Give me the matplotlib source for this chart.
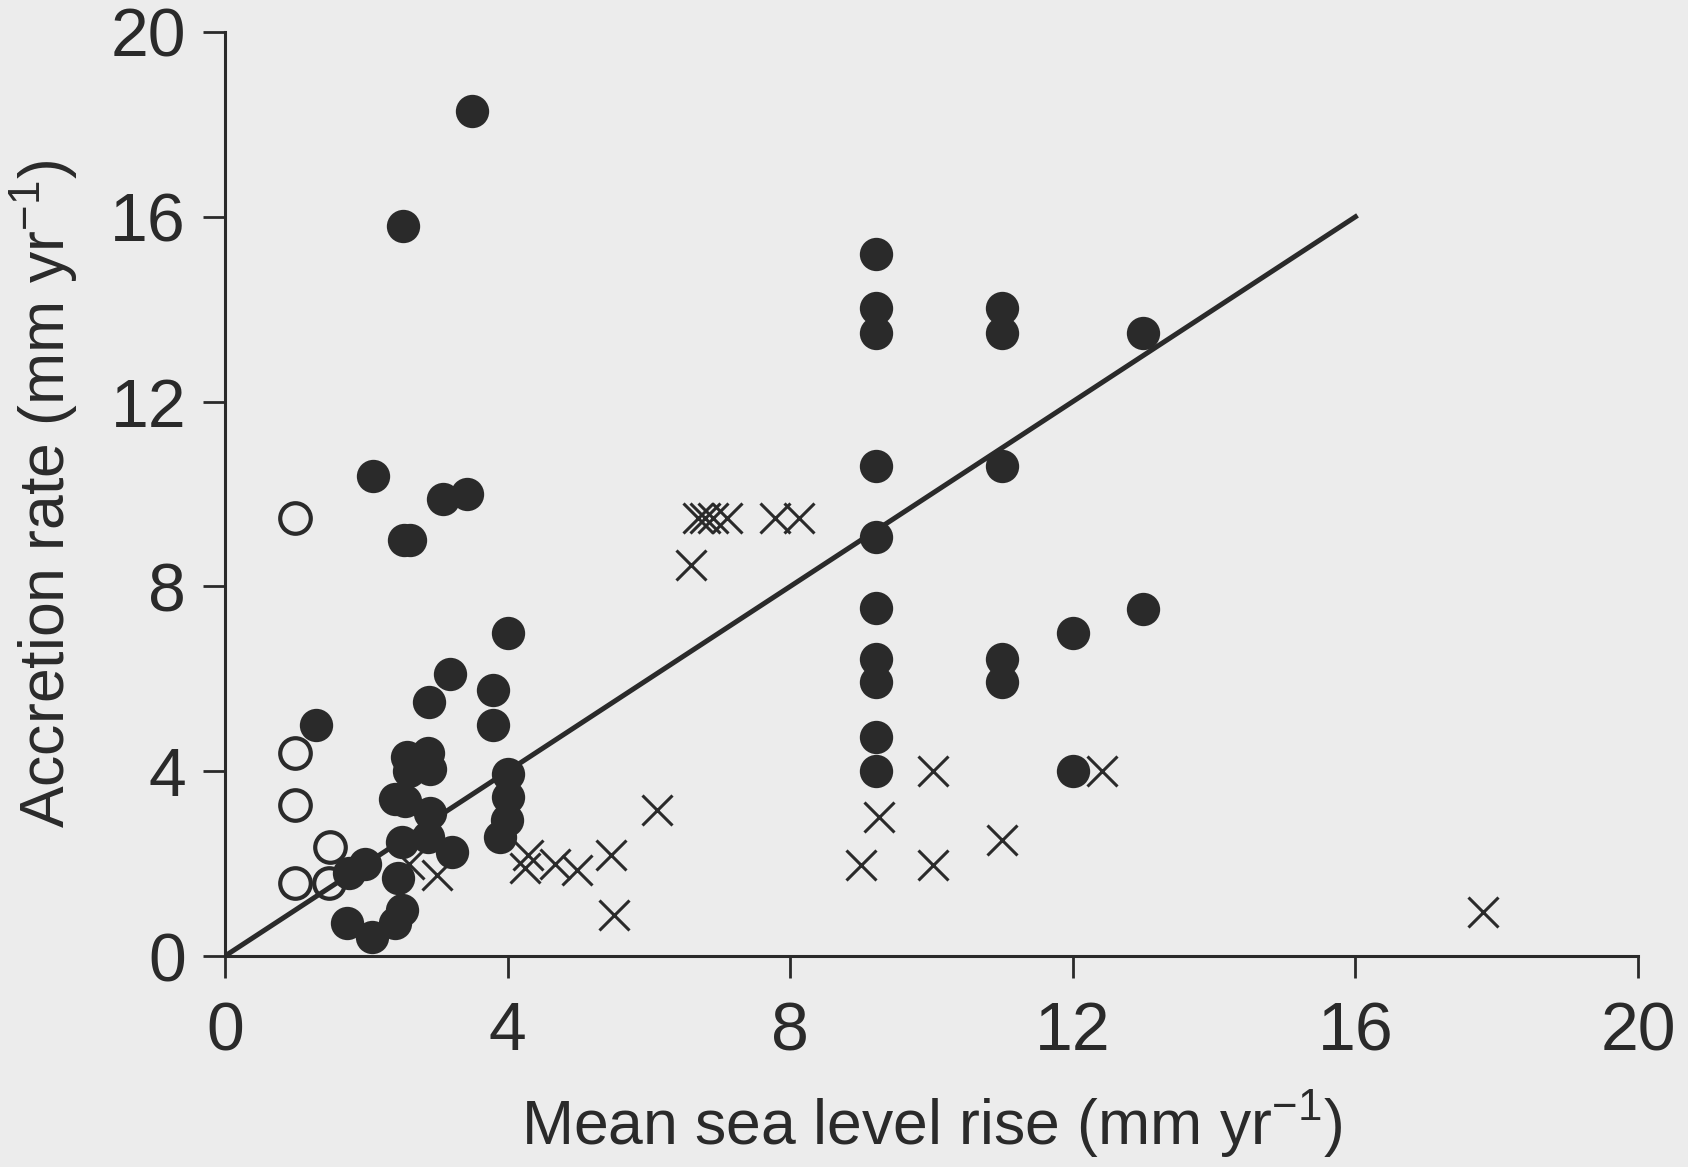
import matplotlib

matplotlib.use("Agg")

import matplotlib.pyplot as plt

# =========================
# data
# =========================
filled_x = [3.50, 2.52, 2.10, 3.09, 3.42, 2.54, 2.62,
            1.29, 4.00, 3.19, 2.89, 3.80, 3.80,
            2.57, 2.88, 2.60, 2.90, 2.40, 2.55,
            2.90, 2.50, 2.88, 3.21,
            4.00, 4.00, 3.99, 3.89,
            1.98, 1.75, 2.45, 2.50, 2.41, 1.72, 2.08,
            9.22, 9.22, 9.22, 9.22, 9.22, 9.22, 9.22, 9.22, 9.22, 9.22,
            11.0, 11.0, 11.0, 11.0, 11.0,
            12.0, 12.0, 13.0, 13.0]
filled_y = [18.3, 15.8, 10.4, 9.9, 10.0, 9.0, 9.0,
            5.0, 7.0, 6.1, 5.5, 5.75, 5.0,
            4.3, 4.4, 4.0, 4.05, 3.4, 3.35,
            3.1, 2.47, 2.58, 2.26,
            3.95, 3.45, 2.94, 2.58,
            2.0, 1.79, 1.68, 1.0, 0.71, 0.71, 0.42,
            15.2, 14.03, 13.49, 10.6, 9.07, 7.53, 6.43, 5.94, 4.75, 4.0,
            14.03, 13.49, 10.6, 6.43, 5.94,
            7.0, 4.0, 13.49, 7.5]

open_x = [0.99, 0.99, 0.99, 1.49, 0.99, 1.47]
open_y = [9.49, 4.39, 3.27, 2.37, 1.57, 1.57]

cross_x = [2.60, 3.00, 4.29, 4.25, 4.67, 4.98, 5.47, 5.50, 6.11, 6.60,
           6.70, 6.80, 6.91, 7.10, 7.78, 8.13,
           10.02, 12.42, 9.26, 11.0, 9.0, 10.02, 17.81]
cross_y = [2.00, 1.75, 2.19, 1.90, 2.00, 1.86, 2.19, 0.89, 3.16, 8.46,
           9.47, 9.47, 9.47, 9.47, 9.47, 9.47,
           4.00, 4.00, 3.00, 2.51, 1.97, 1.97, 0.96]

# 1:1 line
line_x = [0, 16]
line_y = [0, 16]

ticks = [0, 4, 8, 12, 16, 20]

# =========================
# plot
# =========================
bg = "#ececec"
ink = "#2a2a2a"

plt.rcParams["font.family"] = ["Liberation Sans", "DejaVu Sans"]
plt.rcParams["mathtext.fontset"] = "custom"
plt.rcParams["mathtext.rm"] = "Liberation Sans"
plt.rcParams["mathtext.it"] = "Liberation Sans"

fig = plt.figure(figsize=(16.88, 11.67), dpi=100, facecolor=bg)
ax = fig.add_axes([0.1333, 0.1808, 0.8371, 0.7918])
ax.set_facecolor(bg)

ax.plot(line_x, line_y, color=ink, lw=3.6, zorder=2)
ax.plot(filled_x, filled_y, "o", ms=24, color=ink, mec="none", zorder=3)
ax.plot(open_x, open_y, "o", ms=22, mfc="none", mec=ink, mew=3, zorder=3)
ax.plot(cross_x, cross_y, "x", ms=22, color=ink, mew=2.2, zorder=3)

ax.set_xlim(0, 20)
ax.set_ylim(0, 20)
ax.set_xticks(ticks)
ax.set_yticks(ticks)

for side in ["top", "right"]:
    ax.spines[side].set_visible(False)
for side in ["left", "bottom"]:
    ax.spines[side].set_linewidth(2.2)
    ax.spines[side].set_color(ink)

ax.tick_params(direction="out", length=16, width=2, color=ink,
               labelsize=49, labelcolor=ink)
ax.tick_params(axis="x", pad=16)
ax.tick_params(axis="y", pad=12)

ax.set_xlabel("Mean sea level rise (mm yr$^{-1}$)", fontsize=45, color=ink, labelpad=17)
ax.set_ylabel("Accretion rate (mm yr$^{-1}$)", fontsize=45, color=ink, labelpad=22)

fig.savefig("out.png", dpi=100, facecolor=bg)
